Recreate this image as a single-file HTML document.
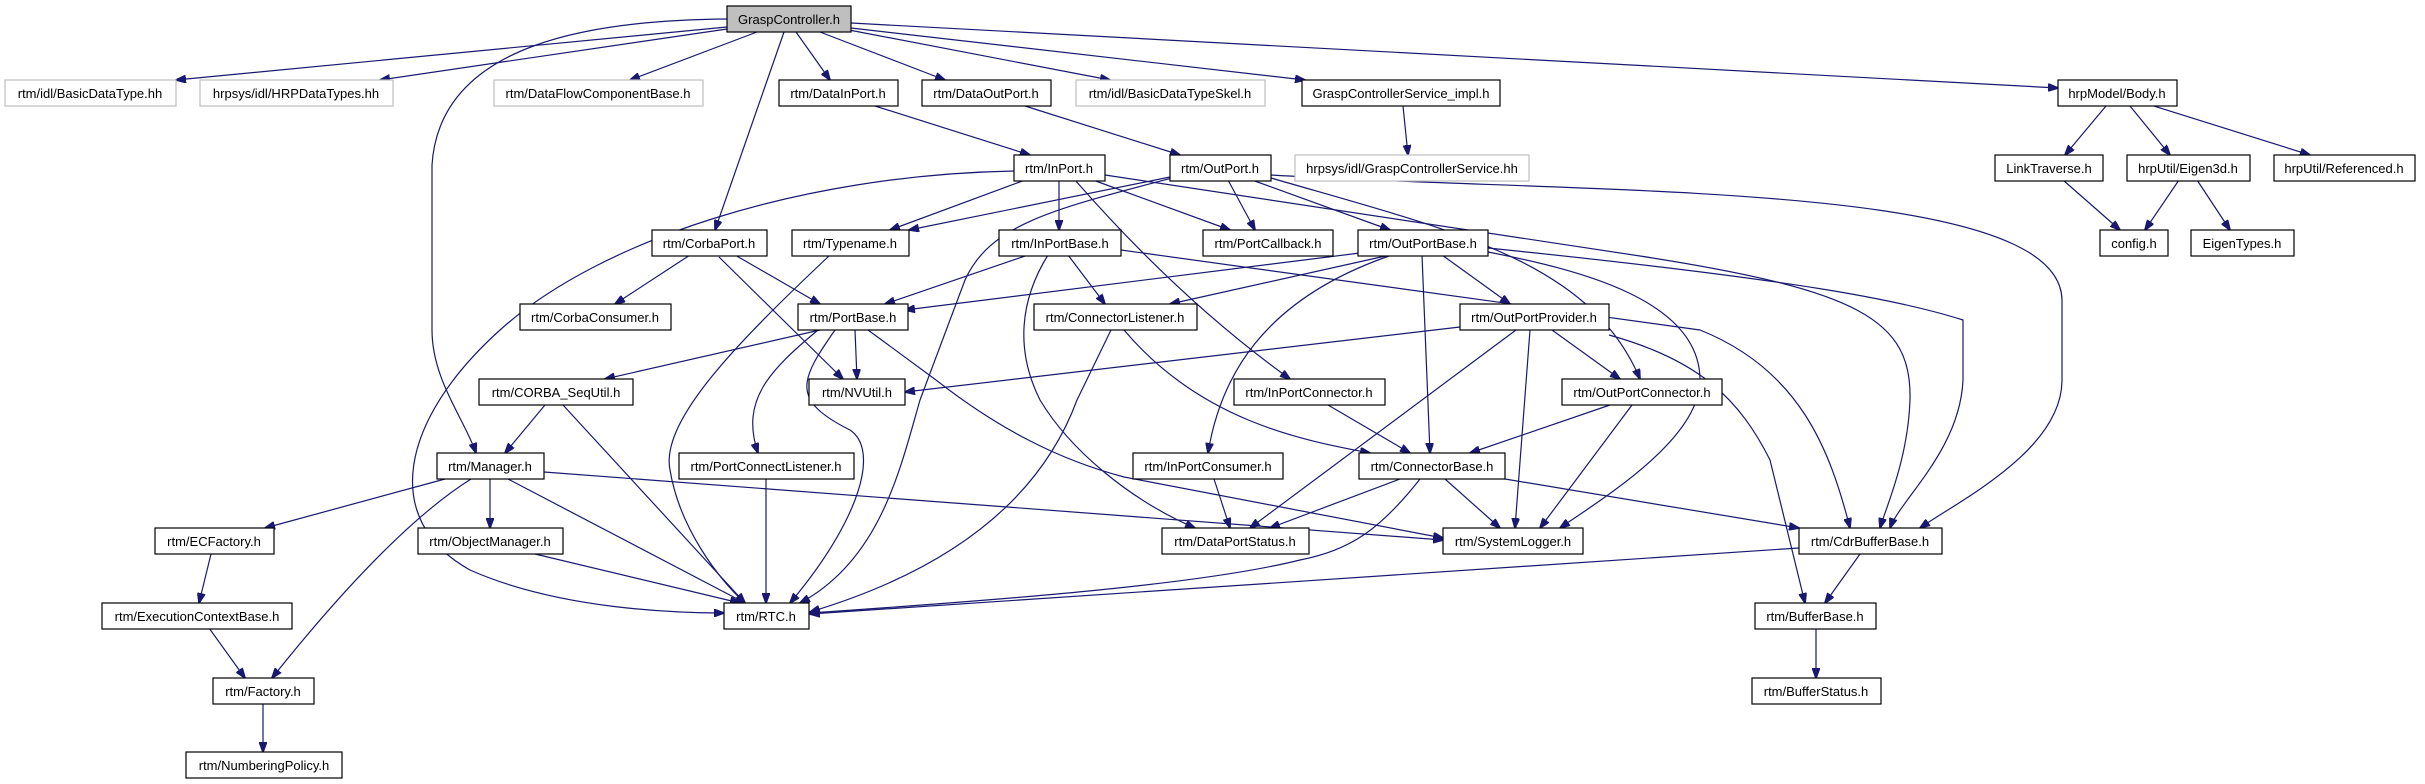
<!DOCTYPE html>
<html><head><meta charset="utf-8"><style>
html,body{margin:0;padding:0;background:#fff;}
svg{display:block;}
text{font-family:"Liberation Sans",Arial,sans-serif;font-size:13px;fill:#000;text-anchor:middle;}
.e{fill:none;stroke:#191970;stroke-width:1.2;marker-end:url(#a);}
.n{fill:#fff;stroke:#000;stroke-width:1.2;}
.g{fill:#fff;stroke:#bfbfbf;stroke-width:1.2;}
</style></head><body>
<svg width="2425" height="784" viewBox="0 0 2425 784" xmlns="http://www.w3.org/2000/svg">
<defs><marker id="a" markerWidth="11" markerHeight="8" refX="10" refY="4" orient="auto" markerUnits="userSpaceOnUse"><path d="M0,0 L11,4 L0,8 z" fill="#191970" stroke="#191970"/></marker></defs>
<g>
<path class="e" d="M727,27 L176,80"/>
<path class="e" d="M727,29 L380,80"/>
<path class="e" d="M757,32 L630,80"/>
<path class="e" d="M784,32 L715,230"/>
<path class="e" d="M796,32 L830,80"/>
<path class="e" d="M820,32 L945,80"/>
<path class="e" d="M849,30 L1110,80"/>
<path class="e" d="M851,28 L1305,80"/>
<path class="e" d="M851,23 L2058,88"/>
<path class="e" d="M727,19 C600,20 440,40 432,165 L432,330 C432,380 465,420 476,453"/>
<path class="e" d="M875,106 L1030,155"/>
<path class="e" d="M1025,106 L1180,155"/>
<path class="e" d="M1403,106 L1408,155"/>
<path class="e" d="M2106,106 L2065,155"/>
<path class="e" d="M2130,106 L2170,155"/>
<path class="e" d="M2154,106 L2310,155"/>
<path class="e" d="M2063,180 L2120,230"/>
<path class="e" d="M2179,180 L2145,230"/>
<path class="e" d="M2197,180 L2230,230"/>
<path class="e" d="M1025,180 L890,230"/>
<path class="e" d="M1059,180 L1059,230"/>
<path class="e" d="M1093,180 L1230,230"/>
<path class="e" d="M1075,180 Q1180,300 1290,379"/>
<path class="e" d="M1014,171 C800,175 600,240 500,330 C400,420 380,520 470,570 C560,610 680,613 724,613"/>
<path class="e" d="M1105,175 L1640,256 C1860,290 1912,320 1910,400 C1908,460 1885,510 1880,528"/>
<path class="e" d="M1170,177 L909,230"/>
<path class="e" d="M1172,178 C1050,210 990,225 965,280 L920,400 C900,470 880,560 800,603"/>
<path class="e" d="M1228,180 L1255,230"/>
<path class="e" d="M1252,180 L1390,230"/>
<path class="e" d="M1271,178 C1450,230 1590,260 1640,379"/>
<path class="e" d="M1271,175 C1600,195 2060,180 2062,300 L2062,380 C2062,450 1960,500 1920,528"/>
<path class="e" d="M1121,250 L1700,330 C1800,370 1830,450 1850,528"/>
<path class="e" d="M1488,248 C1800,280 1900,300 1963,320 L1963,380 C1960,450 1900,500 1890,528"/>
<path class="e" d="M1360,253 L905,310"/>
<path class="e" d="M1390,255 L1170,304"/>
<path class="e" d="M1392,255 C1260,300 1220,380 1208,453"/>
<path class="e" d="M1442,255 L1510,304"/>
<path class="e" d="M1422,255 L1430,453"/>
<path class="e" d="M1488,252 C1580,270 1700,300 1700,380 C1700,440 1600,500 1560,528"/>
<path class="e" d="M1516,330 L1250,528"/>
<path class="e" d="M1460,327 L905,392"/>
<path class="e" d="M1552,330 L1620,379"/>
<path class="e" d="M1530,330 L1515,528"/>
<path class="e" d="M1609,335 C1700,360 1740,400 1770,460 L1805,603"/>
<path class="e" d="M1124,330 C1200,420 1300,440 1370,453"/>
<path class="e" d="M1111,330 L1077,400 C1040,500 950,570 810,612"/>
<path class="e" d="M1028,255 L885,304"/>
<path class="e" d="M1068,255 L1105,304"/>
<path class="e" d="M1048,255 C1020,300 1015,350 1040,400 C1070,450 1130,500 1195,528"/>
<path class="e" d="M1328,405 L1410,453"/>
<path class="e" d="M1610,405 L1470,453"/>
<path class="e" d="M1632,405 L1540,528"/>
<path class="e" d="M1400,479 L1270,528"/>
<path class="e" d="M1445,479 L1500,528"/>
<path class="e" d="M1505,479 L1799,528"/>
<path class="e" d="M1420,479 C1380,530 1350,550 1300,560 C1200,585 1000,600 810,613"/>
<path class="e" d="M1799,548 L810,614"/>
<path class="e" d="M1860,554 L1825,603"/>
<path class="e" d="M1816,628 L1816,678"/>
<path class="e" d="M1214,479 L1230,528"/>
<path class="e" d="M690,255 L615,304"/>
<path class="e" d="M735,255 L820,304"/>
<path class="e" d="M719,257 L843,379"/>
<path class="e" d="M820,330 L605,379"/>
<path class="e" d="M855,330 L857,379"/>
<path class="e" d="M818,330 C770,370 740,400 758,453"/>
<path class="e" d="M835,330 C800,380 790,400 850,430 C880,450 860,520 790,603"/>
<path class="e" d="M868,330 L936,380 C1000,430 1060,460 1124,477 L1443,538"/>
<path class="e" d="M830,255 C740,340 660,420 670,470 C680,530 720,580 745,603"/>
<path class="e" d="M545,405 L505,453"/>
<path class="e" d="M563,405 L745,603"/>
<path class="e" d="M445,479 L265,528"/>
<path class="e" d="M490,479 L490,528"/>
<path class="e" d="M508,479 L745,603"/>
<path class="e" d="M471,479 Q390,530 272,678"/>
<path class="e" d="M544,472 L1443,540"/>
<path class="e" d="M766,479 L766,603"/>
<path class="e" d="M535,554 L740,603"/>
<path class="e" d="M211,554 L199,603"/>
<path class="e" d="M209,628 L245,678"/>
<path class="e" d="M263,703 L263,752"/>
</g>
<g>
<rect x="727" y="6" width="124" height="26" fill="#bfbfbf" stroke="#000" stroke-width="1.2"/><text x="789" y="24">GraspController.h</text>
<rect class="g" x="5" y="80" width="171" height="26"/><text x="90" y="98">rtm/idl/BasicDataType.hh</text>
<rect class="g" x="200" y="80" width="193" height="26"/><text x="296" y="98">hrpsys/idl/HRPDataTypes.hh</text>
<rect class="g" x="494" y="80" width="209" height="26"/><text x="598" y="98">rtm/DataFlowComponentBase.h</text>
<rect class="n" x="779" y="80" width="119" height="26"/><text x="838" y="98">rtm/DataInPort.h</text>
<rect class="n" x="922" y="80" width="129" height="26"/><text x="986" y="98">rtm/DataOutPort.h</text>
<rect class="g" x="1076" y="80" width="189" height="26"/><text x="1170" y="98">rtm/idl/BasicDataTypeSkel.h</text>
<rect class="n" x="1302" y="80" width="198" height="26"/><text x="1401" y="98">GraspControllerService_impl.h</text>
<rect class="n" x="2058" y="80" width="119" height="26"/><text x="2117" y="98">hrpModel/Body.h</text>
<rect class="n" x="1014" y="155" width="91" height="26"/><text x="1059" y="173">rtm/InPort.h</text>
<rect class="n" x="1170" y="155" width="101" height="26"/><text x="1220" y="173">rtm/OutPort.h</text>
<rect class="g" x="1295" y="155" width="234" height="26"/><text x="1412" y="173">hrpsys/idl/GraspControllerService.hh</text>
<rect class="n" x="1995" y="155" width="108" height="26"/><text x="2049" y="173">LinkTraverse.h</text>
<rect class="n" x="2127" y="155" width="123" height="26"/><text x="2188" y="173">hrpUtil/Eigen3d.h</text>
<rect class="n" x="2274" y="155" width="141" height="26"/><text x="2344" y="173">hrpUtil/Referenced.h</text>
<rect class="n" x="652" y="230" width="115" height="26"/><text x="709" y="248">rtm/CorbaPort.h</text>
<rect class="n" x="792" y="230" width="117" height="26"/><text x="850" y="248">rtm/Typename.h</text>
<rect class="n" x="999" y="230" width="122" height="26"/><text x="1060" y="248">rtm/InPortBase.h</text>
<rect class="n" x="1203" y="230" width="130" height="26"/><text x="1268" y="248">rtm/PortCallback.h</text>
<rect class="n" x="1358" y="230" width="130" height="26"/><text x="1423" y="248">rtm/OutPortBase.h</text>
<rect class="n" x="2100" y="230" width="68" height="26"/><text x="2134" y="248">config.h</text>
<rect class="n" x="2191" y="230" width="103" height="26"/><text x="2242" y="248">EigenTypes.h</text>
<rect class="n" x="520" y="304" width="151" height="26"/><text x="595" y="322">rtm/CorbaConsumer.h</text>
<rect class="n" x="798" y="304" width="110" height="26"/><text x="853" y="322">rtm/PortBase.h</text>
<rect class="n" x="1034" y="304" width="163" height="26"/><text x="1115" y="322">rtm/ConnectorListener.h</text>
<rect class="n" x="1460" y="304" width="149" height="26"/><text x="1534" y="322">rtm/OutPortProvider.h</text>
<rect class="n" x="479" y="379" width="154" height="26"/><text x="556" y="397">rtm/CORBA_SeqUtil.h</text>
<rect class="n" x="809" y="379" width="96" height="26"/><text x="857" y="397">rtm/NVUtil.h</text>
<rect class="n" x="1234" y="379" width="151" height="26"/><text x="1309" y="397">rtm/InPortConnector.h</text>
<rect class="n" x="1562" y="379" width="160" height="26"/><text x="1642" y="397">rtm/OutPortConnector.h</text>
<rect class="n" x="437" y="453" width="107" height="26"/><text x="490" y="471">rtm/Manager.h</text>
<rect class="n" x="679" y="453" width="175" height="26"/><text x="766" y="471">rtm/PortConnectListener.h</text>
<rect class="n" x="1133" y="453" width="150" height="26"/><text x="1208" y="471">rtm/InPortConsumer.h</text>
<rect class="n" x="1359" y="453" width="146" height="26"/><text x="1432" y="471">rtm/ConnectorBase.h</text>
<rect class="n" x="155" y="528" width="119" height="26"/><text x="214" y="546">rtm/ECFactory.h</text>
<rect class="n" x="418" y="528" width="145" height="26"/><text x="490" y="546">rtm/ObjectManager.h</text>
<rect class="n" x="1162" y="528" width="147" height="26"/><text x="1235" y="546">rtm/DataPortStatus.h</text>
<rect class="n" x="1443" y="528" width="140" height="26"/><text x="1513" y="546">rtm/SystemLogger.h</text>
<rect class="n" x="1799" y="528" width="143" height="26"/><text x="1870" y="546">rtm/CdrBufferBase.h</text>
<rect class="n" x="724" y="603" width="85" height="26"/><text x="766" y="621">rtm/RTC.h</text>
<rect class="n" x="102" y="603" width="190" height="26"/><text x="197" y="621">rtm/ExecutionContextBase.h</text>
<rect class="n" x="1755" y="603" width="121" height="26"/><text x="1815" y="621">rtm/BufferBase.h</text>
<rect class="n" x="213" y="678" width="101" height="26"/><text x="263" y="696">rtm/Factory.h</text>
<rect class="n" x="1752" y="678" width="129" height="26"/><text x="1816" y="696">rtm/BufferStatus.h</text>
<rect class="n" x="186" y="752" width="156" height="26"/><text x="264" y="770">rtm/NumberingPolicy.h</text>
</g>
</svg>
</body></html>
